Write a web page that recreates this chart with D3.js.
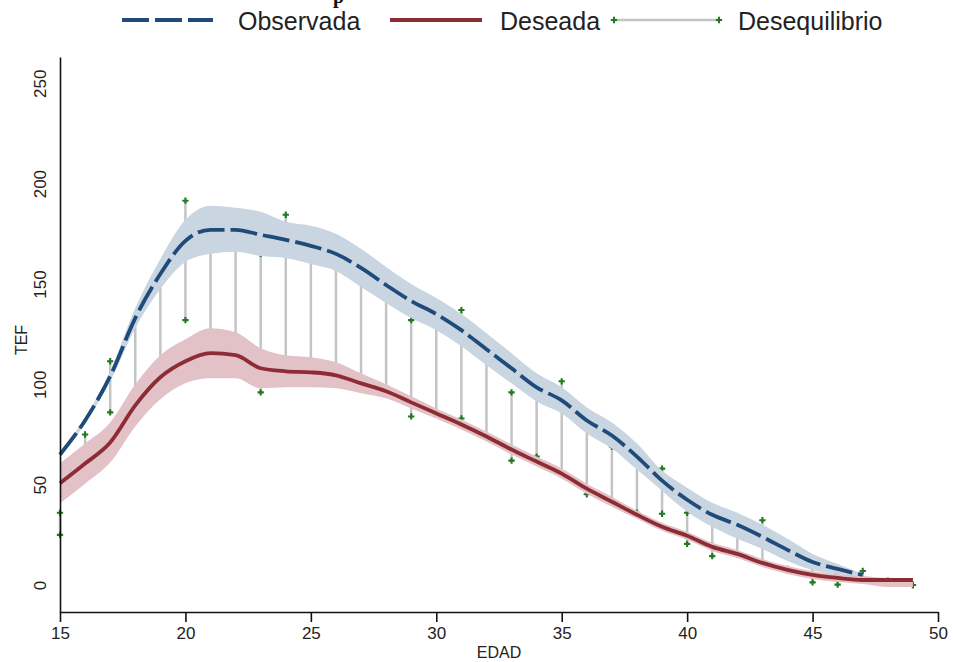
<!DOCTYPE html>
<html>
<head>
<meta charset="utf-8">
<script src="https://cdn.jsdelivr.net/npm/d3@7"></script>
<style>
  body { margin: 0; background: #fff; }
  svg { display: block; }
</style>
</head>
<body>
<svg id="chart" width="953" height="662"></svg>
<script>
// Smoothed observed fertility (TEF) by age, with its confidence band
const obsAges = [15,16,17,18,19,20,21,22,23,24,25,26,27,28,29,30,31,32,33,34,35,36,37,38,39,40,41,42,43,44,45,46,47];
const obsFit  = [65,82,104,133,155,171.5,177,177,174.5,172,169,165,158,149.5,141.5,135,127,117.5,108,98.5,92,82,74.5,64,52,42.5,35,30,24,17.5,11.5,8,5];
const obsLo   = [63.5,80.5,101.5,128,147.5,161,165,166,164,163,160,156.5,148.5,140.5,133,127,119,109.5,100.5,91.5,85.5,75.5,68,57.5,47,36.5,29,23,18,12,7.5,5.5,4.5];
const obsHi   = [66.5,83.5,106.5,138,162.5,182,189,188,186,181,179,175,167.5,158.5,150,143,135,125.5,115.5,105.5,98.5,88.5,81,70.5,57,48.5,41,36,30,23,15.5,10.5,5.5];

// Smoothed desired fertility by age, with its confidence band
const desAges = [15,16,17,18,19,20,21,22,23,24,25,26,27,28,29,30,31,32,33,34,35,36,37,38,39,40,41,42,43,44,45,46,47,48,49];
const desFit  = [50.7,60.5,71,89.5,103.5,111.5,115.5,114.5,108,106.5,106,104.5,100.5,96.5,91,85.5,80,74,67.5,61.5,55.5,48,41.5,35,29,24.5,19,15.5,11,7.5,5,3.5,2.5,2.5,2.5];
const desLo   = [40.7,50.5,61,79,92.5,100.5,103,103,98,98.5,98.5,98,95.5,93,88,83,77.5,71.5,65,59,53,45.5,39,33,27,22.5,17,13.5,9,5.5,3,1.5,0.5,-1,-1];
const desHi   = [60.7,70.5,81,100,114.5,122.5,128,126,118,114.5,113.5,111,105.5,100,94,88,82.5,76.5,70,64,58,50.5,44,37,31,26.5,21,17.5,13,9.5,7,5.5,4.5,3.5,3.5];

// Per-age gap between observed and desired values
const gapAges = [15,16,17,18,19,20,21,22,23,24,25,26,27,28,29,30,31,32,33,34,35,36,37,38,39,40,41,42,43,44,45,46,47,48,49];
const gapObs  = [36,75,111.5,133,153,191.5,178,174,165,184.5,168,163,156,148,132,134,137,115,96,97,101.5,80,69,62,58,36,32,27,32.3,8,9,6,7,2,0];
const gapDes  = [25,66,86,92,108,132,118,116,96,108,104,105,100,96,84,86,83,74,62,64,56,45.2,42,36,35.5,20.5,14.4,15,11,7,1.3,0.2,2.5,2,0];

// Axis ticks and legend entries
const xTicks = [15,20,25,30,35,40,45,50];
const yTicks = [0,50,100,150,200,250];
const legendItems = ["Observada", "Deseada", "Desequilibrio"];

const colObs = "#1f4b7a", colObsBand = "#c9d5e1";
const colDes = "#8e2c36", colDesBand = "#e2c2c6";
const colGap = "#c4c4c4", colMark = "#1f7a1f";
const font = "'Liberation Sans',Arial,sans-serif";

const svg = d3.select("#chart");
const x = d3.scaleLinear().domain([15, 50]).range([60, 938]);
const y = d3.scaleLinear().domain([-13.45, 263.1]).range([612, 57]);

const cross = d3.symbol().type(d3.symbolCross).size(22);

// Vertical gap segments with end markers (drawn first, bands cover them)
const gap = gapAges.map((a, i) => ({ a, o: gapObs[i], d: gapDes[i] }));
const gGap = svg.append("g");
gGap.selectAll("line").data(gap).join("line")
  .attr("x1", d => x(d.a)).attr("x2", d => x(d.a))
  .attr("y1", d => y(d.o)).attr("y2", d => y(d.d))
  .attr("stroke", colGap).attr("stroke-width", 2.5);
gGap.selectAll("path.mo").data(gap).join("path").attr("class", "mo")
  .attr("d", cross).attr("fill", colMark)
  .attr("transform", d => `translate(${x(d.a)},${y(d.o)})`);
gGap.selectAll("path.md").data(gap).join("path").attr("class", "md")
  .attr("d", cross).attr("fill", colMark)
  .attr("transform", d => `translate(${x(d.a)},${y(d.d)})`);

// Confidence bands
const obsRows = obsAges.map((a, i) => ({ a, f: obsFit[i], lo: obsLo[i], hi: obsHi[i] }));
const desRows = desAges.map((a, i) => ({ a, f: desFit[i], lo: desLo[i], hi: desHi[i] }));
const band = d3.area().x(d => x(d.a)).y0(d => y(d.lo)).y1(d => y(d.hi)).curve(d3.curveMonotoneX);
const fitLine = d3.line().x(d => x(d.a)).y(d => y(d.f)).curve(d3.curveMonotoneX);

svg.append("path").datum(obsRows).attr("d", band).attr("fill", colObsBand);
svg.append("path").datum(desRows).attr("d", band).attr("fill", colDesBand);

// Fitted lines
svg.append("path").datum(desRows).attr("d", fitLine)
  .attr("fill", "none").attr("stroke", colDes).attr("stroke-width", 3.8);
svg.append("path").datum(obsRows).attr("d", fitLine)
  .attr("fill", "none").attr("stroke", colObs).attr("stroke-width", 3.8)
  .attr("stroke-dasharray", "27,6");

// Axes
const xAxis = svg.append("g").attr("transform", "translate(0,612)")
  .call(d3.axisBottom(x).tickValues(xTicks).tickSize(10).tickSizeOuter(0).tickPadding(5).tickFormat(d3.format("d")));
const yAxis = svg.append("g").attr("transform", "translate(60,0)")
  .call(d3.axisLeft(y).tickValues(yTicks).tickSize(0).tickSizeOuter(0).tickFormat(d3.format("d")));
[xAxis, yAxis].forEach(g => {
  g.select(".domain").attr("stroke", "#111").attr("stroke-width", 1.6);
  g.selectAll(".tick line").attr("stroke", "#111").attr("stroke-width", 1.6);
  g.selectAll("text").attr("fill", "#222").style("font-family", font).style("font-size", "17px");
});
yAxis.selectAll(".tick text")
  .attr("x", null).attr("dy", null)
  .attr("text-anchor", "middle").attr("dominant-baseline", "central")
  .attr("transform", "translate(-20,0) rotate(-90)");

// Axis titles
svg.append("text").attr("x", 499).attr("y", 658).attr("text-anchor", "middle")
  .style("font-family", font).style("font-size", "16px").attr("fill", "#222").text("EDAD");
svg.append("text").attr("transform", "translate(27,340) rotate(-90)").attr("text-anchor", "middle")
  .style("font-family", font).style("font-size", "16px").attr("fill", "#222").text("TEF");

// Title (only its lower edge falls inside the frame)
svg.append("text").attr("x", 333).attr("y", 3)
  .style("font-family", "'Liberation Serif','Times New Roman',serif").style("font-weight", "bold")
  .style("font-size", "20px").attr("fill", "#111").text("p");

// Legend
const lg = svg.append("g");
const ly = 20;
lg.append("line").attr("x1", 122).attr("x2", 213).attr("y1", ly).attr("y2", ly)
  .attr("stroke", colObs).attr("stroke-width", 4).attr("stroke-dasharray", "27,6");
lg.append("line").attr("x1", 390).attr("x2", 482).attr("y1", ly).attr("y2", ly)
  .attr("stroke", colDes).attr("stroke-width", 4);
lg.append("line").attr("x1", 614).attr("x2", 719).attr("y1", ly).attr("y2", ly)
  .attr("stroke", colGap).attr("stroke-width", 2.5);
[614, 719].forEach(px => lg.append("path").attr("d", cross).attr("fill", colMark)
  .attr("transform", `translate(${px},${ly})`));
const lx = [238, 500, 738];
legendItems.forEach((t, i) => lg.append("text").attr("x", lx[i]).attr("y", ly + 1)
  .attr("dominant-baseline", "central").style("font-family", font).style("font-size", "25px")
  .attr("fill", "#222").text(t));
</script>
</body>
</html>
